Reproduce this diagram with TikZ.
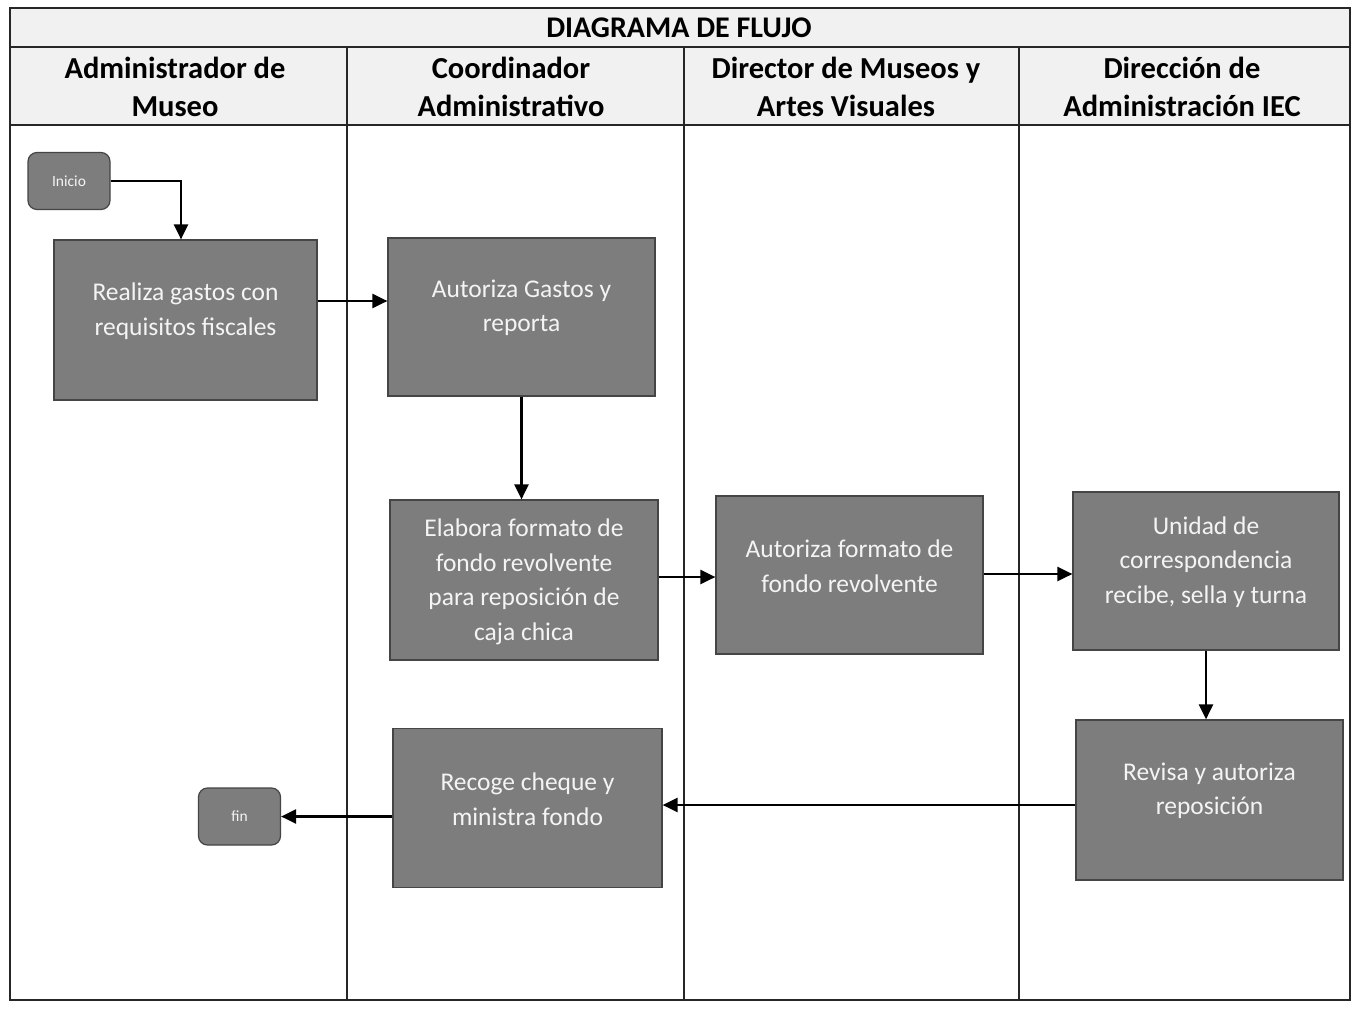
\documentclass[tikz,border=0pt]{standalone}
\usepackage{fontspec}
\setmainfont{Carlito}
\usetikzlibrary{arrows.meta}
\definecolor{boxgrey}{HTML}{7D7D7D}
\definecolor{boxedge}{HTML}{454545}
\definecolor{headgrey}{HTML}{F1F1F1}
\definecolor{boxtext}{HTML}{F4F4F4}
\begin{document}
\begin{tikzpicture}[x=1pt,y=-1pt,
  grid/.style={line width=1.4pt,draw=black!85},
  stepbox/.style={draw=boxedge,line width=1.2pt,fill=boxgrey,inner sep=0pt},
  steptext/.style={text=boxtext,align=center,inner sep=0pt,
    font=\fontsize{25.5}{34.5}\selectfont},
  term/.style={draw=boxedge,line width=1.2pt,fill=boxgrey,text=boxtext,
    rounded corners=9pt,font=\fontsize{15.5}{18}\selectfont,
    minimum width=82pt,minimum height=57pt,inner sep=0pt},
  flow/.style={line width=2.4pt,-{Triangle[length=15pt,width=14pt]}},
  lanehead/.style={align=center,font=\bfseries\fontsize{30.5}{38}\selectfont}]
\useasboundingbox (0,0) rectangle (1358,1009);
\fill[white] (0,0) rectangle (1358,1009);

% table: title row, lane headers, lanes
\fill[headgrey] (10,8) rectangle (1350,125);
\draw[grid] (10,8) rectangle (1350,1000);
\draw[grid] (10,47) -- (1350,47);
\draw[grid] (10,125) -- (1350,125);
\draw[grid] (347,47) -- (347,1000);
\draw[grid] (684,47) -- (684,1000);
\draw[grid] (1019,47) -- (1019,1000);

\node[font=\bfseries\fontsize{30}{32}\selectfont] (title) at (679,28) {DIAGRAMA DE FLUJO};
\node[lanehead] (h1) at (175,87) {Administrador de\\Museo};
\node[lanehead] (h2) at (511,87) {Coordinador\\Administrativo};
\node[lanehead] (h3) at (846,87) {Director de Museos y\\Artes Visuales};
\node[lanehead] (h4) at (1182,87) {Dirección de\\Administración IEC};

% process steps
\node[term] (inicio) at (69,181) {Inicio};
\node[stepbox,minimum width=263pt,minimum height=160pt,
  label={[steptext,yshift=9pt]center:{Realiza gastos con\\requisitos fiscales}}]
  (realiza) at (185.5,320) {};
\node[stepbox,minimum width=267pt,minimum height=158pt,
  label={[steptext,yshift=9pt]center:{Autoriza Gastos y\\reporta}}]
  (autgastos) at (521.5,317) {};
\node[stepbox,minimum width=268pt,minimum height=160pt,
  label={[steptext,yshift=-2pt]center:{Elabora formato de\\fondo revolvente\\para reposición de\\caja chica}}]
  (elabora) at (524,580) {};
\node[stepbox,minimum width=267pt,minimum height=158pt,
  label={[steptext,yshift=9pt]center:{Autoriza formato de\\fondo revolvente}}]
  (autformato) at (849.5,575) {};
\node[stepbox,minimum width=266pt,minimum height=158pt,
  label={[steptext,yshift=9pt]center:{Unidad de\\correspondencia\\recibe, sella y turna}}]
  (unidad) at (1206,571) {};
\node[stepbox,minimum width=267pt,minimum height=160pt,
  label={[steptext,yshift=9pt]center:{Revisa y autoriza\\reposición}}]
  (revisa) at (1209.5,800) {};
\node[stepbox,minimum width=269pt,minimum height=159pt,
  label={[steptext,yshift=9pt]center:{Recoge cheque y\\ministra fondo}}]
  (recoge) at (527.5,808) {};
\node[term] (fin) at (239.5,816.5) {fin};

% connectors
\draw[flow] (inicio.east) -| (realiza.north -| 181,0);
\draw[flow] (realiza.east |- 0,301) -- (autgastos.west |- 0,301);
\draw[flow] (autgastos.south) -- (elabora.north -| autgastos.south);
\draw[flow] (elabora.east |- 0,577) -- (autformato.west |- 0,577);
\draw[flow] (autformato.east |- 0,574) -- (unidad.west |- 0,574);
\draw[flow] (unidad.south) -- (revisa.north -| unidad.south);
\draw[flow] (revisa.west |- 0,805) -- (recoge.east |- 0,805);
\draw[flow] (recoge.west |- 0,816.5) -- (fin.east);
\end{tikzpicture}
\end{document}
